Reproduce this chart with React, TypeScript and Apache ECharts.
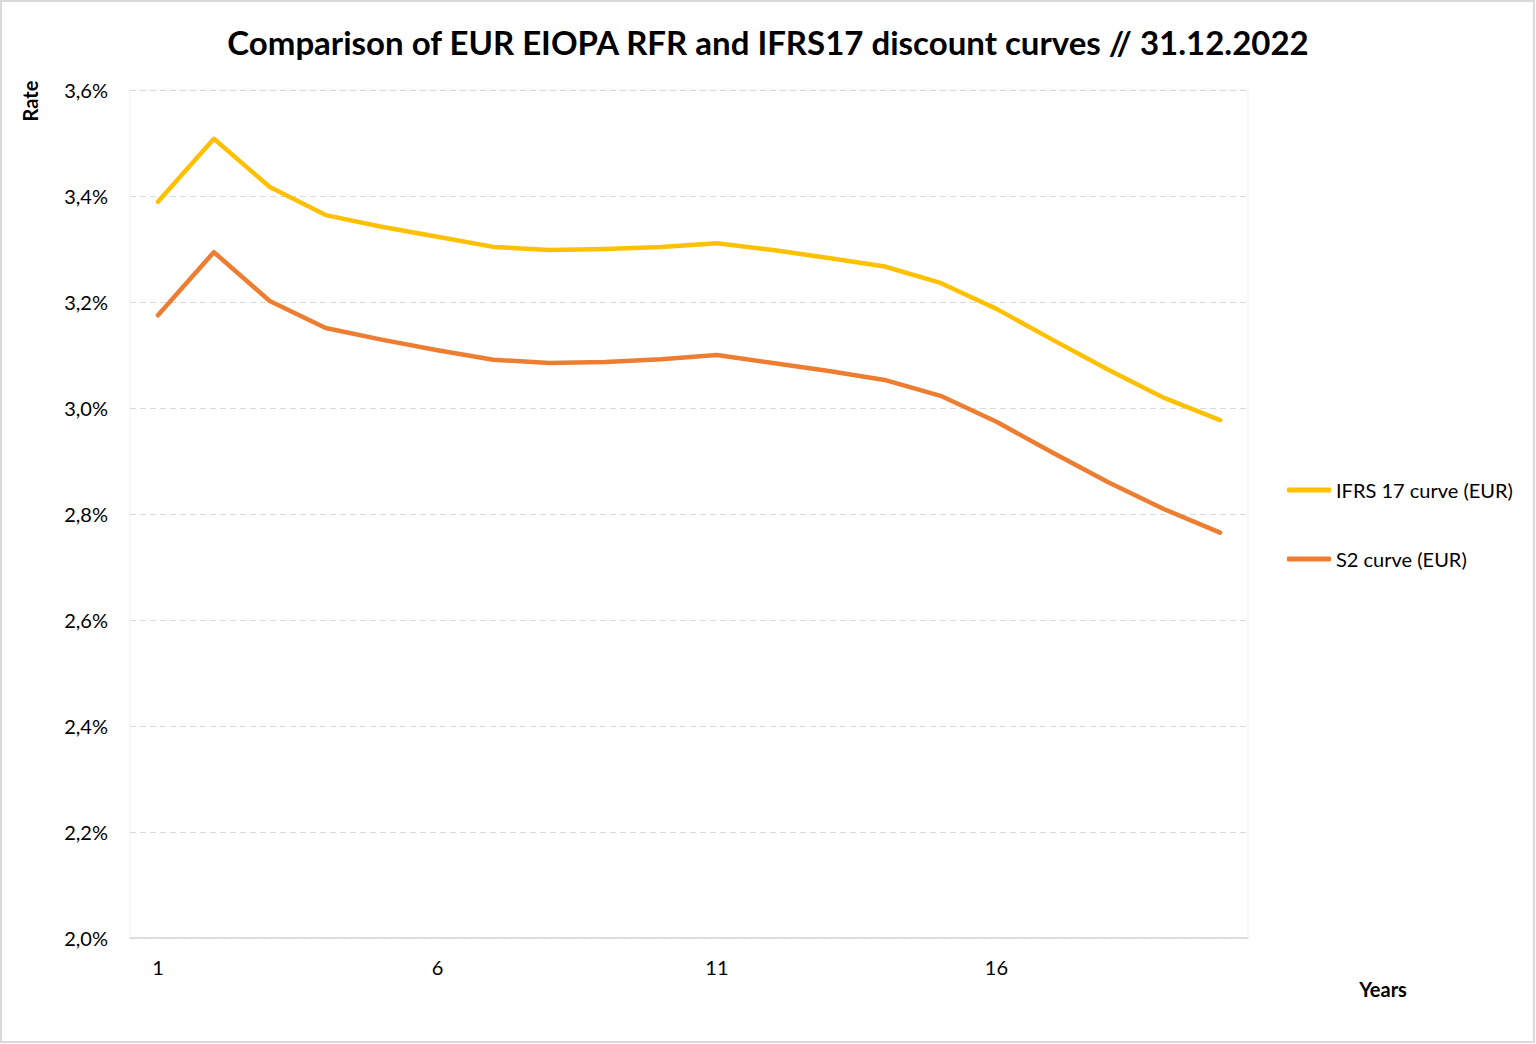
import React, { useEffect, useRef } from "react";
import * as echarts from "echarts";

const years = ["1","2","3","4","5","6","7","8","9","10","11","12","13","14","15","16","17","18","19","20"];
const ifrs17 = [3.389, 3.508, 3.417, 3.364, 3.342, 3.323, 3.304, 3.298, 3.300, 3.304, 3.311, 3.298, 3.283, 3.267, 3.236, 3.187, 3.129, 3.072, 3.019, 2.977];
const s2 = [3.175, 3.294, 3.202, 3.151, 3.129, 3.109, 3.091, 3.085, 3.087, 3.092, 3.100, 3.085, 3.070, 3.053, 3.023, 2.974, 2.916, 2.860, 2.809, 2.765];
const seriesNames = ["IFRS 17 curve (EUR)", "S2 curve (EUR)"];
const titleText = "Comparison of EUR EIOPA RFR and IFRS17 discount curves // 31.12.2022";

const FONT = "Lato, 'Open Sans', sans-serif";

export default function App() {
  const ref = useRef<HTMLDivElement>(null);
  useEffect(() => {
    document.body.style.margin = "0";
    const chart = echarts.init(ref.current!, null, { renderer: "svg" });
    chart.setOption({
      animation: false,
      backgroundColor: "#ffffff",
      textStyle: { fontFamily: FONT },
      title: {
        text: titleText,
        left: "center",
        top: 20,
        textStyle: { fontSize: 33, fontWeight: "bold", color: "#000", fontFamily: FONT },
      },
      grid: {
        left: 130,
        right: 288,
        top: 90,
        bottom: 106,
        show: true,
        borderColor: "#efefef",
        borderWidth: 1,
      },
      legend: {
        orient: "vertical",
        left: 1282,
        top: 473,
        itemWidth: 44,
        itemHeight: 5,
        itemGap: 45,
        icon: "roundRect",
        textStyle: { fontSize: 20, color: "#000", lineHeight: 24, fontFamily: FONT },
        data: seriesNames,
      },
      xAxis: {
        type: "category",
        data: years,
        boundaryGap: true,
        axisLine: { show: true, lineStyle: { color: "#d9d9d9", width: 1.5 } },
        axisTick: { show: false },
        axisLabel: { interval: 4, fontSize: 20, color: "#000", margin: 19, fontFamily: FONT },
        splitLine: { show: false },
      },
      yAxis: {
        type: "value",
        min: 2.0,
        max: 3.6,
        interval: 0.2,
        axisLine: { show: false },
        axisTick: { show: false },
        axisLabel: {
          fontSize: 20,
          color: "#000",
          margin: 22,
          fontFamily: FONT,
          formatter: (v: number) => v.toFixed(1).replace(".", ",") + "%",
        },
        splitLine: { show: true, lineStyle: { color: "#d9d9d9", type: [6, 4], width: 1 } },
      },
      series: [
        {
          name: seriesNames[0],
          type: "line",
          data: ifrs17,
          symbol: "none",
          color: "#FFC000",
          lineStyle: { width: 4.5, color: "#FFC000", cap: "round", join: "round" },
        },
        {
          name: seriesNames[1],
          type: "line",
          data: s2,
          symbol: "none",
          color: "#ED7D31",
          lineStyle: { width: 4.5, color: "#ED7D31", cap: "round", join: "round" },
        },
      ],
      graphic: [
        {
          type: "rect",
          shape: { x: 1, y: 1, width: 1533, height: 1041 },
          style: { fill: "none", stroke: "#d9d9d9", lineWidth: 2 },
          silent: true,
        },
        {
          type: "text",
          x: 30,
          y: 101,
          rotation: Math.PI / 2,
          style: {
            text: "Rate",
            fontSize: 20,
            fontWeight: "bold",
            fill: "#000",
            fontFamily: FONT,
            align: "center",
            verticalAlign: "middle",
          },
        },
        {
          type: "text",
          x: 1383,
          y: 989,
          style: {
            text: "Years",
            fontSize: 20,
            fontWeight: "bold",
            fill: "#000",
            fontFamily: FONT,
            align: "center",
            verticalAlign: "middle",
          },
        },
      ],
    });
    return () => chart.dispose();
  }, []);
  return <div ref={ref} style={{ width: 1536, height: 1044 }} />;
}
